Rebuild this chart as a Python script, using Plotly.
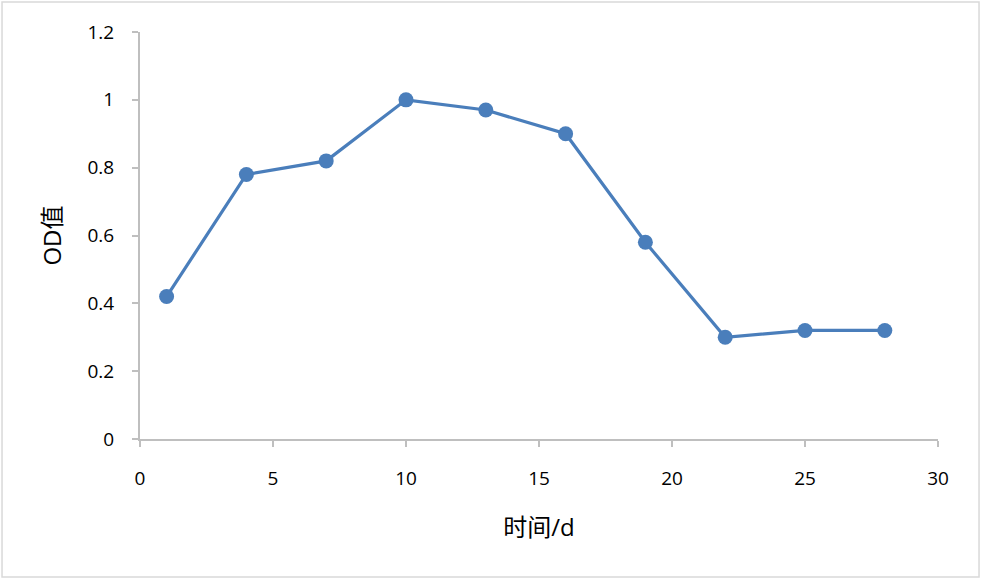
import plotly.graph_objects as go

# 时间/d 与 OD值
days = [1, 4, 7, 10, 13, 16, 19, 22, 25, 28]
od_values = [0.42, 0.78, 0.82, 1.0, 0.97, 0.90, 0.58, 0.30, 0.32, 0.32]

x_ticks = [0, 5, 10, 15, 20, 25, 30]
y_ticks = [0, 0.2, 0.4, 0.6, 0.8, 1.0, 1.2]
y_tick_labels = ["0", "0.2", "0.4", "0.6", "0.8", "1", "1.2"]

blue = "#4A7EBB"
axis_grey = "#BFBFBF"
font_family = "Open Sans, Noto Sans CJK SC, sans-serif"

fig = go.Figure()
fig.add_trace(
    go.Scatter(
        x=days,
        y=od_values,
        mode="lines+markers",
        line=dict(color=blue, width=3.2),
        marker=dict(color=blue, size=15),
        showlegend=False,
    )
)

fig.update_layout(
    width=985,
    height=585,
    margin=dict(l=140, r=47, t=32, b=146),
    plot_bgcolor="white",
    paper_bgcolor="white",
    font=dict(family=font_family, color="black", size=19),
    shapes=[
        dict(
            type="rect",
            xref="paper",
            yref="paper",
            x0=-0.1729,
            x1=1.0514,
            y0=-0.339,
            y1=1.0737,
            line=dict(color="#D9D9D9", width=1.5),
            fillcolor="rgba(0,0,0,0)",
            layer="below",
        )
    ],
)

fig.update_xaxes(
    range=[0, 30],
    tickvals=x_ticks,
    tickfont=dict(size=19),
    showgrid=False,
    zeroline=False,
    showline=True,
    linecolor=axis_grey,
    linewidth=2,
    ticks="outside",
    ticklen=6,
    tickwidth=2,
    tickcolor=axis_grey,
    ticklabelstandoff=15,
    title=dict(text="时间/d", font=dict(size=24), standoff=29),
)

fig.update_yaxes(
    range=[0, 1.2],
    tickvals=y_ticks,
    ticktext=y_tick_labels,
    tickfont=dict(size=19),
    showgrid=False,
    zeroline=False,
    showline=True,
    linecolor=axis_grey,
    linewidth=2,
    ticks="outside",
    ticklen=6,
    tickwidth=2,
    tickcolor=axis_grey,
    ticklabelstandoff=14,
    title=dict(text="OD值", font=dict(size=24), standoff=19),
)

# the page adds an 8px body margin; drop it so the figure sits at the top-left corner
fig.write_html(
    "out.html",
    config={"displayModeBar": False},
    post_script="document.body.style.margin = '0';",
)
